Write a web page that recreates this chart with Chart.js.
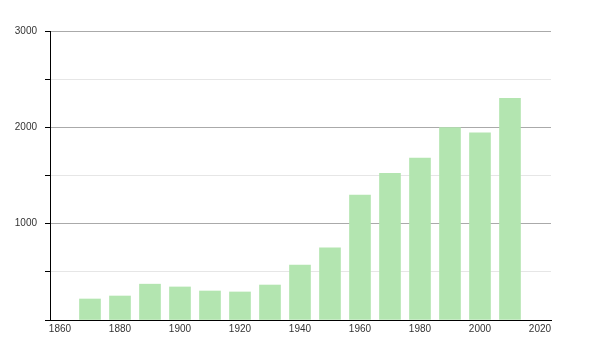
<!DOCTYPE html>
<html>
<head>
<meta charset="utf-8">
<script src="https://cdn.jsdelivr.net/npm/chart.js@4/dist/chart.umd.min.js"></script>
<style>
  html, body { margin: 0; padding: 0; background: #fff; }
  #wrap { width: 600px; height: 350px; }
</style>
</head>
<body>
<div id="wrap"><canvas id="chart" width="600" height="350"></canvas></div>
<script>
// decades and values
const years = [1870, 1880, 1890, 1900, 1910, 1920, 1930, 1940, 1950, 1960, 1970, 1980, 1990, 2000, 2010];
const values = [218, 249, 372, 343, 301, 291, 363, 571, 748, 1298, 1523, 1682, 1997, 1942, 2302];
const xTicks = [1860, 1880, 1900, 1920, 1940, 1960, 1980, 2000, 2020];

const BAR = '#b3e5b0';
const MAJOR = '#aaaaaa';
const MINOR = '#e6e6e6';
const TEXT = '#333333';

Chart.defaults.font.family = "'Liberation Sans', Arial, sans-serif";
Chart.defaults.font.size = 10;
Chart.defaults.color = TEXT;

new Chart(document.getElementById('chart'), {
  type: 'bar',
  data: {
    datasets: [{
      data: years.map((y, i) => ({ x: y, y: values[i] })),
      backgroundColor: BAR,
      borderWidth: 0,
      barThickness: 21,
    }],
  },
  options: {
    responsive: false,
    animation: false,
    layout: { padding: { top: 31, right: 49, left: 0, bottom: 0 } },
    plugins: { legend: { display: false }, tooltip: { enabled: false } },
    scales: {
      x: {
        type: 'linear',
        offset: false,
        min: 1856.67,
        max: 2023.67,
        afterBuildTicks: (scale) => { scale.ticks = xTicks.map(v => ({ value: v })); },
        afterFit: (scale) => { scale.height = 30; },
        grid: { display: false, drawTicks: false, offset: false },
        border: { color: '#000', width: 1 },
        ticks: { padding: 3, color: TEXT, callback: (v) => String(v) },
      },
      y: {
        min: 0,
        max: 3000,
        afterFit: (scale) => { scale.width = 50; },
        border: { color: '#000', width: 1 },
        grid: {
          color: (ctx) => (ctx.tick && ctx.tick.value % 1000 === 0 ? MAJOR : MINOR),
          tickColor: '#000',
          tickLength: 5,
        },
        ticks: {
          stepSize: 500,
          padding: 8,
          color: TEXT,
          callback: (v) => (v > 0 && v % 1000 === 0 ? String(v) : ''),
        },
      },
    },
  },
});
</script>
</body>
</html>
